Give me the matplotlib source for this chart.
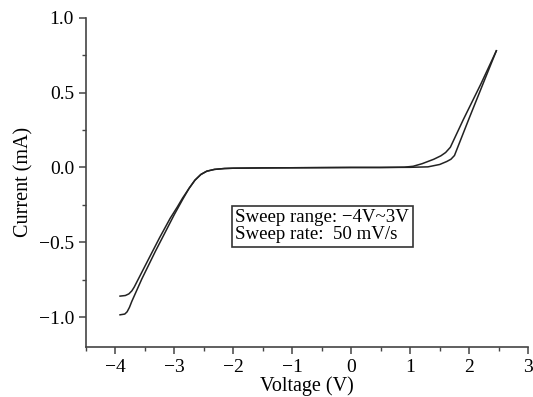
import matplotlib.pyplot as plt
from matplotlib.ticker import MultipleLocator

plt.rcParams['font.family'] = ['Liberation Serif', 'DejaVu Serif']

# Sweep branch 1 (upper on the negative side)
v_up = [-3.92, -3.83, -3.77, -3.72, -3.68, -3.55, -3.42, -3.25, -3.07, -2.95, -2.86, -2.75,
        -2.65, -2.55, -2.45, -2.32, -2.15, -2.0, -1.5, -1.0, -0.5, 0.0, 0.5, 0.9,
        1.05, 1.2, 1.4, 1.52, 1.6, 1.68, 1.9, 2.2, 2.46]
i_up = [-0.86, -0.856, -0.845, -0.825, -0.80, -0.70, -0.60, -0.47, -0.34, -0.265, -0.205, -0.14,
        -0.085, -0.047, -0.025, -0.013, -0.007, -0.005, -0.003, -0.002, -0.001, 0.0, 0.0, 0.002,
        0.008, 0.025, 0.055, 0.078, 0.1, 0.135, 0.32, 0.56, 0.78]

# Sweep branch 2 (lower on the negative side)
v_dn = [-3.92, -3.84, -3.8, -3.76, -3.72, -3.55, -3.32, -3.15, -3.0, -2.86, -2.75,
        -2.65, -2.55, -2.45, -2.32, -2.15, -2.0, -1.5, -1.0, -0.5, 0.0, 0.5, 1.0,
        1.3, 1.5, 1.62, 1.69, 1.75, 2.0, 2.25, 2.46]
i_dn = [-0.985, -0.98, -0.965, -0.935, -0.895, -0.745, -0.56, -0.43, -0.315, -0.215, -0.14,
        -0.085, -0.047, -0.025, -0.013, -0.007, -0.005, -0.003, -0.002, -0.001, 0.0, 0.0, 0.001,
        0.004, 0.02, 0.04, 0.055, 0.08, 0.33, 0.575, 0.78]

fig = plt.figure(figsize=(5.33, 3.97), dpi=100)
ax = fig.add_axes([0.161, 0.126, 0.83, 0.829])

ax.plot(v_up, i_up, color='#222222', lw=1.1)
ax.plot(v_dn, i_dn, color='#222222', lw=1.1)

ax.set_xlim(-4.5, 3)
ax.set_ylim(-1.2, 1.0)
ax.xaxis.set_major_locator(MultipleLocator(1))
ax.xaxis.set_minor_locator(MultipleLocator(0.5))
ax.yaxis.set_minor_locator(MultipleLocator(0.25))
ax.set_yticks([-1.0, -0.5, 0.0, 0.5, 1.0])
ax.set_yticklabels(['\u22121.0', '\u22120.5', '0.0', '0.5', '1.0'])

for s in ['top', 'right']:
    ax.spines[s].set_visible(False)
for s in ['left', 'bottom']:
    ax.spines[s].set_color('#444444')
    ax.spines[s].set_linewidth(1.2)
ax.tick_params(which='major', direction='out', length=5, width=1.1, color='#444444', labelsize=14)
ax.tick_params(which='minor', direction='out', length=3, width=1.0, color='#444444')

ax.set_xlabel('Voltage (V)', fontsize=14.5, labelpad=0)
ax.set_ylabel('Current (mA)', fontsize=14.5, labelpad=4)

ax.text(0.338, 0.418, 'Sweep range: \u22124V~3V\nSweep rate:  50 mV/s',
        transform=ax.transAxes, fontsize=13.6, va='top', ha='left', linespacing=0.95,
        bbox=dict(boxstyle='square,pad=0.2', fc='white', ec='#333333', lw=1.2))

plt.savefig('out.png', dpi=100)
